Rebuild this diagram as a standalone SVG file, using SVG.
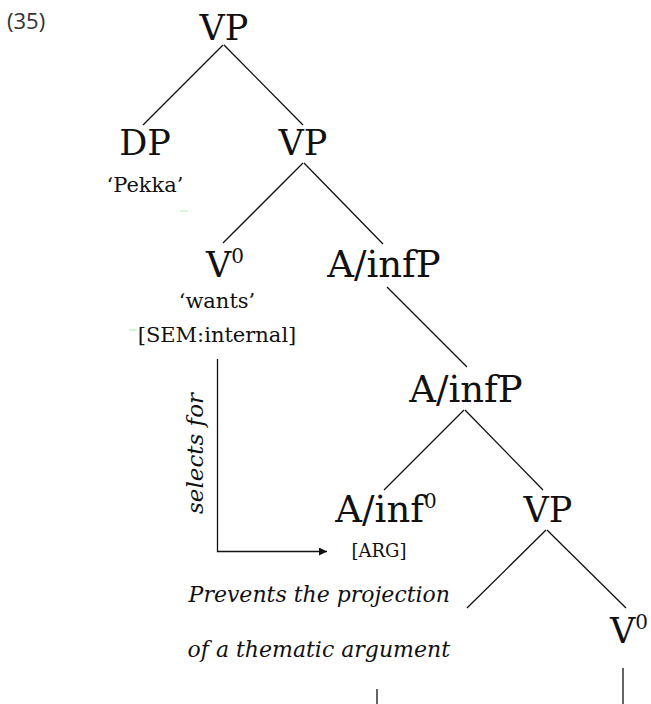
<svg xmlns="http://www.w3.org/2000/svg" width="651" height="704" viewBox="0 0 651 704">
<defs>
<style>
.n{font-family:"DejaVu Serif","Liberation Serif",serif;font-size:35px;fill:#111;text-anchor:middle}
.w{font-size:37px}
.s{font-family:"DejaVu Serif","Liberation Serif",serif;font-size:21px;fill:#111;text-anchor:middle}
.it{font-family:"DejaVu Serif","Liberation Serif",serif;font-style:italic;font-size:22px;fill:#111}
.sup{font-size:20px}
.e{stroke:#111;stroke-width:1.3;fill:none}
.lbl{font-family:"Open Sans","Noto Sans",sans-serif;font-size:22px;fill:#333}
</style>
<marker id="ah" viewBox="0 0 10 10" refX="10" refY="5" markerWidth="10" markerHeight="8" markerUnits="userSpaceOnUse" orient="auto"><path d="M0,0 L10,5 L0,10 z" fill="#111"/></marker>
</defs>
<rect width="651" height="704" fill="#fff"/>
<text class="lbl" x="7" y="29">(35)</text>
<g id="connectors">
<line class="e" x1="223" y1="45" x2="143" y2="125"/>
<line class="e" x1="224" y1="45" x2="303" y2="125"/>
<line class="e" x1="303" y1="163" x2="223" y2="243"/>
<line class="e" x1="304" y1="163" x2="383" y2="244"/>
<line class="e" x1="387" y1="287" x2="467" y2="367"/>
<line class="e" x1="464" y1="410" x2="384" y2="490"/>
<line class="e" x1="465" y1="410" x2="543" y2="490"/>
<line class="e" x1="546" y1="530" x2="467" y2="608"/>
<line class="e" x1="547" y1="530" x2="626" y2="608"/>
<line class="e" x1="377" y1="689" x2="377" y2="704"/>
<line class="e" x1="623" y1="668" x2="623" y2="704"/>
<path class="e" d="M217.5,359 V551.5 H327" marker-end="url(#ah)"/>
<line x1="180" y1="211" x2="188" y2="211" stroke="#b8f0b8" stroke-width="1"/>
<line x1="129" y1="330" x2="137" y2="330" stroke="#a8eaa8" stroke-width="1"/>
</g>
<g id="vp1"><text class="n" x="224" y="40">VP</text></g>
<g id="dp"><text class="n" x="145" y="155">DP</text><text class="s" x="145" y="192">‘Pekka’</text></g>
<g id="vp2"><text class="n" x="303" y="155">VP</text></g>
<g id="v0"><text class="n" x="225" y="277">V<tspan class="sup" dy="-14">0</tspan></text><text class="s" x="217" y="308">‘wants’</text><text class="s" x="217" y="342">[SEM:internal]</text></g>
<g id="ainfp1"><text class="n w" x="384" y="277">A/infP</text></g>
<g id="ainfp2"><text class="n w" x="466" y="402">A/infP</text></g>
<g id="ainf0"><text class="n w" x="386" y="522">A/inf<tspan class="sup" dy="-14">0</tspan></text><text class="s" x="379" y="557" style="font-size:18px">[ARG]</text></g>
<g id="vp3"><text class="n" x="548" y="522">VP</text></g>
<g id="v0b"><text class="n" x="610" y="643" style="text-anchor:start">V<tspan class="sup" dy="-14">0</tspan></text></g>
<text class="it" transform="translate(203,514) rotate(-90)" style="font-size:23px">selects for</text>
<text class="it" x="450" y="602" text-anchor="end">Prevents the projection</text>
<text class="it" x="450" y="657" text-anchor="end">of a thematic argument</text>
</svg>
